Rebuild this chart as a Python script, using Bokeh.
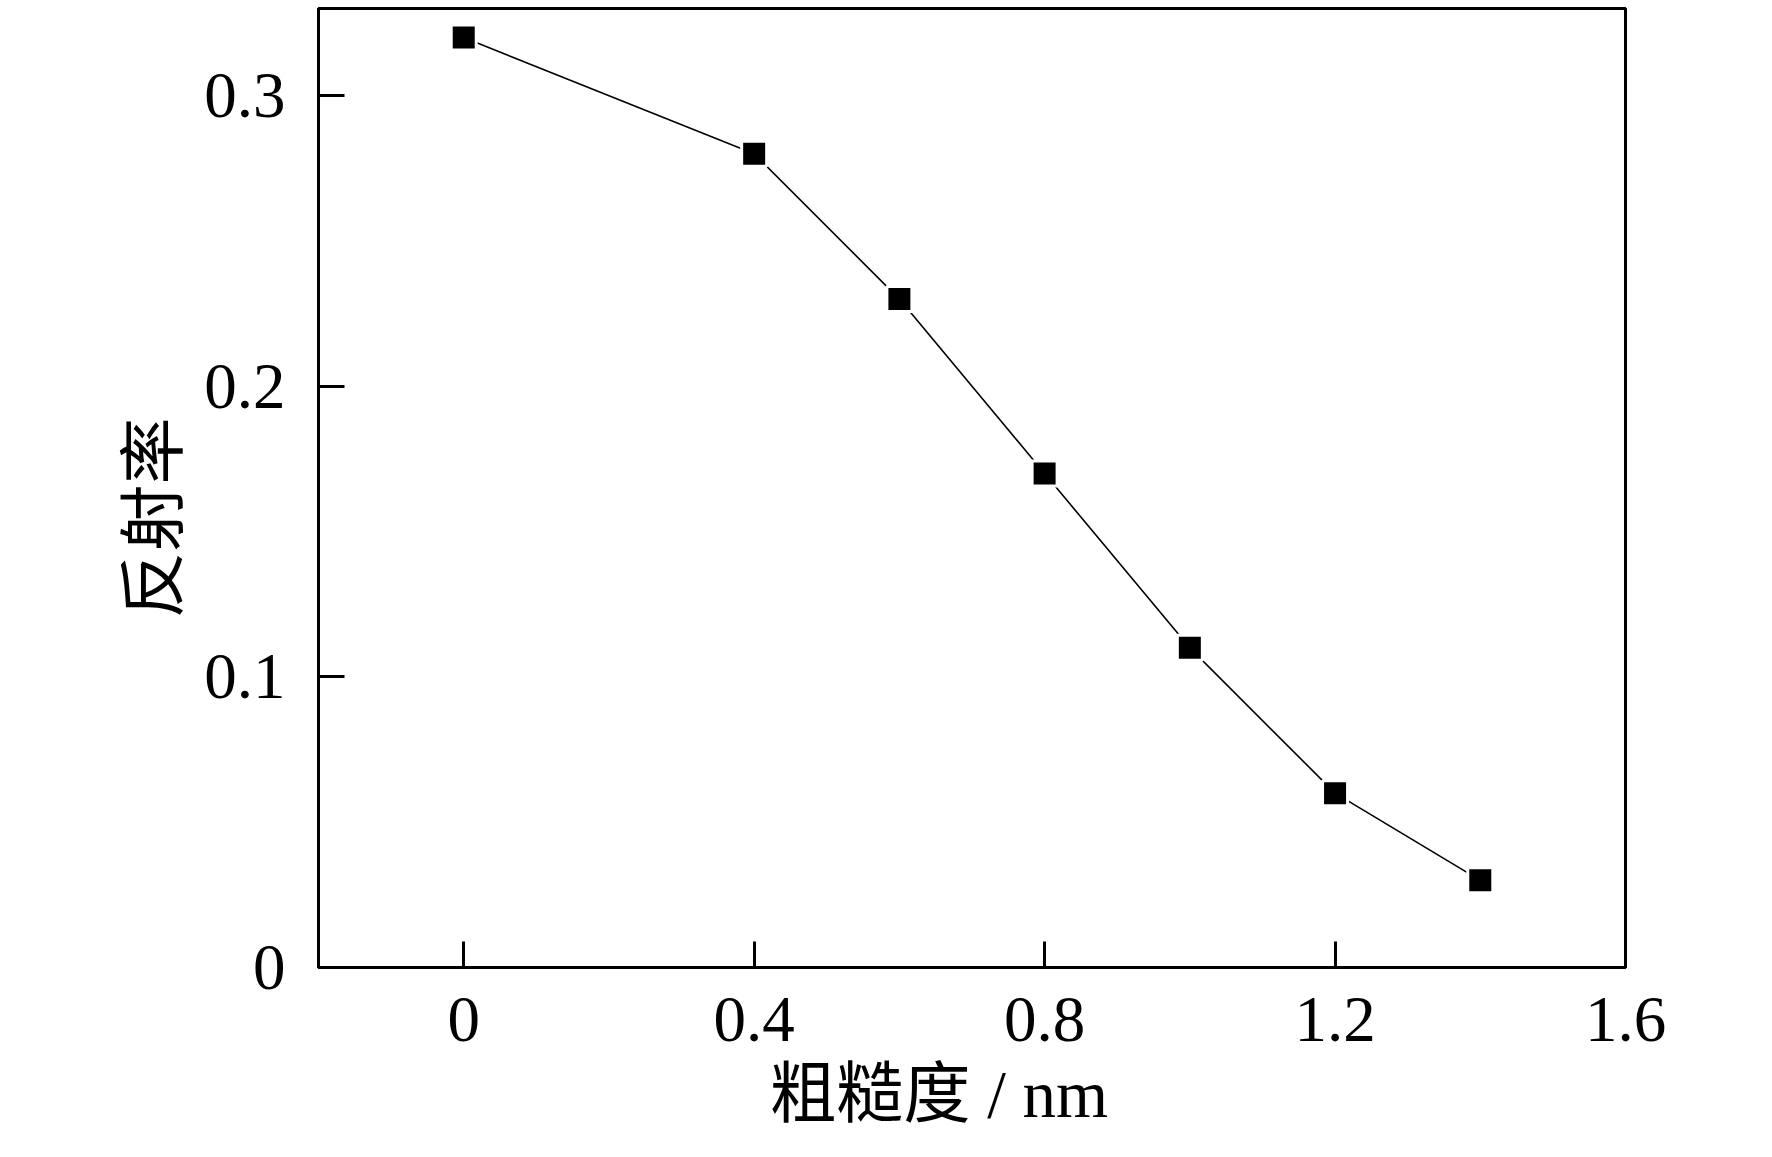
from bokeh.plotting import figure
from bokeh.models import Range1d, FixedTicker, Title
from bokeh.embed import file_html
from bokeh.resources import INLINE

roughness = [0.0, 0.4, 0.6, 0.8, 1.0, 1.2, 1.4]
reflectance = [0.32, 0.28, 0.23, 0.17, 0.11, 0.06, 0.03]
x_ticks = [0, 0.4, 0.8, 1.2, 1.6]
x_tick_labels = {0: "0", 0.4: "0.4", 0.8: "0.8", 1.2: "1.2", 1.6: "1.6"}
y_ticks = [0, 0.1, 0.2, 0.3]
y_tick_labels = {0: "0", 0.1: "0.1", 0.2: "0.2", 0.3: "0.3"}
x_title = "粗糙度 / nm"
y_title = "反射率"

FONT = "Liberation Serif, Noto Sans CJK SC"

p = figure(width=1756, height=1141, output_backend="svg", toolbar_location=None,
           x_range=Range1d(-0.2, 1.6), y_range=Range1d(0, 0.33),
           min_border_left=318, min_border_right=131, min_border_top=8,
           min_border_bottom=173)
p.background_fill_color = "white"
p.border_fill_color = "white"
p.outline_line_color = "black"
p.outline_line_width = 3
p.xgrid.visible = False
p.ygrid.visible = False

p.line(roughness, reflectance, line_color="black", line_width=1.6)
p.scatter(roughness, reflectance, marker="square", size=25, fill_color="black",
          line_color="white", line_width=3)

for ax, ticks, labels in ((p.xaxis[0], x_ticks, x_tick_labels), (p.yaxis[0], y_ticks, y_tick_labels)):
    ax.ticker = FixedTicker(ticks=ticks)
    ax.major_label_overrides = labels
    ax.axis_line_width = 3
    ax.axis_line_color = "black"
    ax.major_tick_line_width = 3
    ax.major_tick_line_color = "black"
    ax.major_tick_in = 26
    ax.major_tick_out = 0
    ax.minor_tick_line_color = None
    ax.major_label_text_font = FONT
    ax.major_label_text_font_size = "65px"
    ax.major_label_text_color = "black"

p.xaxis.major_label_standoff = 30
p.yaxis.major_label_standoff = 33

xt = Title(text=x_title, align="left", offset=451, standoff=22,
           text_font=FONT, text_font_size="67px", text_font_style="normal",
           text_color="black")
yt = Title(text=y_title, align="left", offset=349, standoff=22,
           text_font=FONT, text_font_size="67px", text_font_style="normal",
           text_color="black")
p.add_layout(xt, "below")
p.add_layout(yt, "left")

open("out.html", "w").write(file_html(p, INLINE))
